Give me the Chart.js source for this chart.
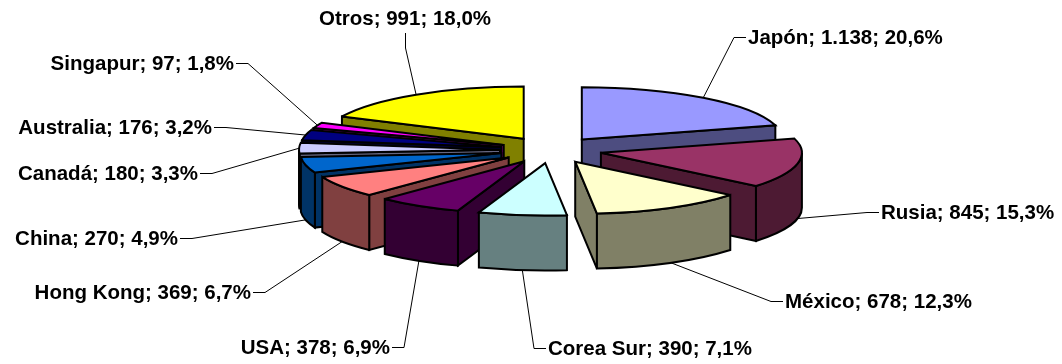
<!DOCTYPE html>
<html>
<head>
<meta charset="utf-8">
<title>Pie 3D</title>
<script src="https://cdn.jsdelivr.net/npm/chart.js@4"></script>
<style>
    html, body { margin: 0; padding: 0; background: #fff; overflow: hidden; }
    #wrap { width: 1062px; height: 364px; }
</style>
</head>
<body>
<div id="wrap"><canvas id="pieChart" width="1062" height="364"></canvas></div>
<script>
// Chart data
const categories = ['Japón', 'Rusia', 'México', 'Corea Sur', 'USA', 'Hong Kong', 'China', 'Canadá', 'Australia', 'Singapur', 'Otros'];
const values = [1138, 845, 678, 390, 378, 369, 270, 180, 176, 97, 991];
const topColors = ['#9999FF', '#993366', '#FFFFCC', '#CCFFFF', '#660066', '#FF8080', '#0066CC', '#CCCCFF', '#000080', '#FF00FF', '#FFFF00'];
const sideColors = ['#4D4D80', '#4D1A33', '#808066', '#668080', '#330033', '#804040', '#003366', '#666680', '#000040', '#800080', '#808000'];

// Where each data label sits, in the same order as categories
const labelBoxes = [
    { x: 748, y: 37, align: 'left' },
    { x: 881, y: 212, align: 'left' },
    { x: 785, y: 301, align: 'left' },
    { x: 548, y: 348, align: 'left' },
    { x: 390, y: 347, align: 'right' },
    { x: 251, y: 292, align: 'right' },
    { x: 178, y: 238, align: 'right' },
    { x: 198, y: 173, align: 'right' },
    { x: 212, y: 127, align: 'right' },
    { x: 234, y: 63, align: 'right' },
    { x: 405, y: 18, align: 'center' }
];

// Look of the fake 3D
const squash = 0.26;
const explode = 51;
const depth = 55;
const centerY = 150;
const labelFont = 'bold 20.5px "Liberation Sans", Arial, sans-serif';

const total = values.reduce((a, b) => a + b, 0);

function labelText(i) {
    const value = values[i].toLocaleString('de-DE');
    const percent = (values[i] / total * 100).toFixed(1).replace('.', ',');
    return categories[i] + '; ' + value + '; ' + percent + '%';
}

// Screen position of a slice apex after the explode and the squash
function sliceGeometry(arc) {
    const mid = (arc.startAngle + arc.endAngle) / 2;
    return {
        mid: mid,
        ax: arc.x + Math.cos(mid) * explode,
        ay: centerY + Math.sin(mid) * explode * squash,
        rx: arc.outerRadius,
        ry: arc.outerRadius * squash
    };
}

function drawSlice(ctx, arc, i) {
    const g = sliceGeometry(arc);
    const a0 = arc.startAngle;
    const a1 = arc.endAngle;

    ctx.lineWidth = 2;
    ctx.strokeStyle = '#000';
    ctx.fillStyle = sideColors[i];

    // Cut faces, only the ones turned towards us
    [a0, a1].forEach(function(angle, k) {
        const visible = k === 0 ? Math.cos(angle) < 0 : Math.cos(angle) > 0;
        if (!visible) return;
        const px = g.ax + Math.cos(angle) * g.rx;
        const py = g.ay + Math.sin(angle) * g.ry;
        ctx.beginPath();
        ctx.moveTo(g.ax, g.ay);
        ctx.lineTo(px, py);
        ctx.lineTo(px, py + depth);
        ctx.lineTo(g.ax, g.ay + depth);
        ctx.closePath();
        ctx.fill();
        ctx.stroke();
    });

    // Outer wall, front half of the ellipse only
    const t0 = Math.max(a0, 0);
    const t1 = Math.min(a1, Math.PI);
    if (t1 > t0) {
        ctx.beginPath();
        ctx.ellipse(g.ax, g.ay, g.rx, g.ry, 0, t0, t1);
        ctx.ellipse(g.ax, g.ay + depth, g.rx, g.ry, 0, t1, t0, true);
        ctx.closePath();
        ctx.fill();
        ctx.stroke();
    }

    // Top face is the library's own arc, squashed and moved
    ctx.save();
    ctx.translate(g.ax, g.ay);
    ctx.scale(1, squash);
    ctx.translate(-arc.x, -arc.y);
    arc.draw(ctx);
    ctx.restore();

    ctx.beginPath();
    ctx.moveTo(g.ax, g.ay);
    ctx.ellipse(g.ax, g.ay, g.rx, g.ry, 0, a0, a1);
    ctx.closePath();
    ctx.stroke();
}

function drawLabel(ctx, arc, i) {
    const g = sliceGeometry(arc);
    const box = labelBoxes[i];
    const text = labelText(i);

    // Leader ends on the slice edge, at the bottom of the wall on the front half
    const sin = Math.sin(g.mid);
    const ex = g.ax + Math.cos(g.mid) * g.rx;
    const ey = g.ay + sin * g.ry + (sin > 0.1 ? depth : 0);

    ctx.lineWidth = 1;
    ctx.strokeStyle = '#000';
    ctx.beginPath();
    if (box.align === 'center') {
        ctx.moveTo(box.x + 0.5, box.y + 15);
        ctx.lineTo(box.x + 0.5, box.y + 30);
    } else {
        const dir = box.align === 'left' ? -1 : 1;
        ctx.moveTo(box.x + dir * 2, box.y + 0.5);
        ctx.lineTo(box.x + dir * 14, box.y + 0.5);
    }
    ctx.lineTo(ex, ey);
    ctx.stroke();

    ctx.font = labelFont;
    ctx.fillStyle = '#000';
    ctx.textAlign = box.align;
    ctx.textBaseline = 'middle';
    ctx.fillText(text, box.x, box.y + 1);
}

const pie3d = {
    id: 'pie3d',
    beforeDatasetDraw: function(chart, args) {
        const ctx = chart.ctx;
        const arcs = args.meta.data;
        ctx.save();
        ctx.lineJoin = 'miter';
        ctx.miterLimit = 3;

        arcs.forEach(function(arc, i) { drawLabel(ctx, arc, i); });

        // Back to front, slices nearer the viewer go last
        const order = arcs.map(function(arc, i) { return i; });
        order.sort(function(p, q) {
            return sliceGeometry(arcs[p]).ay - sliceGeometry(arcs[q]).ay;
        });
        order.forEach(function(i) { drawSlice(ctx, arcs[i], i); });

        ctx.restore();
        return false;
    }
};

new Chart(document.getElementById('pieChart'), {
    type: 'pie',
    data: {
        labels: categories,
        datasets: [{
            data: values,
            backgroundColor: topColors,
            borderWidth: 0
        }]
    },
    options: {
        responsive: false,
        animation: false,
        radius: 201,
        layout: { padding: { left: 40 } },
        plugins: {
            legend: { display: false },
            tooltip: { enabled: false }
        }
    },
    plugins: [pie3d]
});
</script>
</body>
</html>
